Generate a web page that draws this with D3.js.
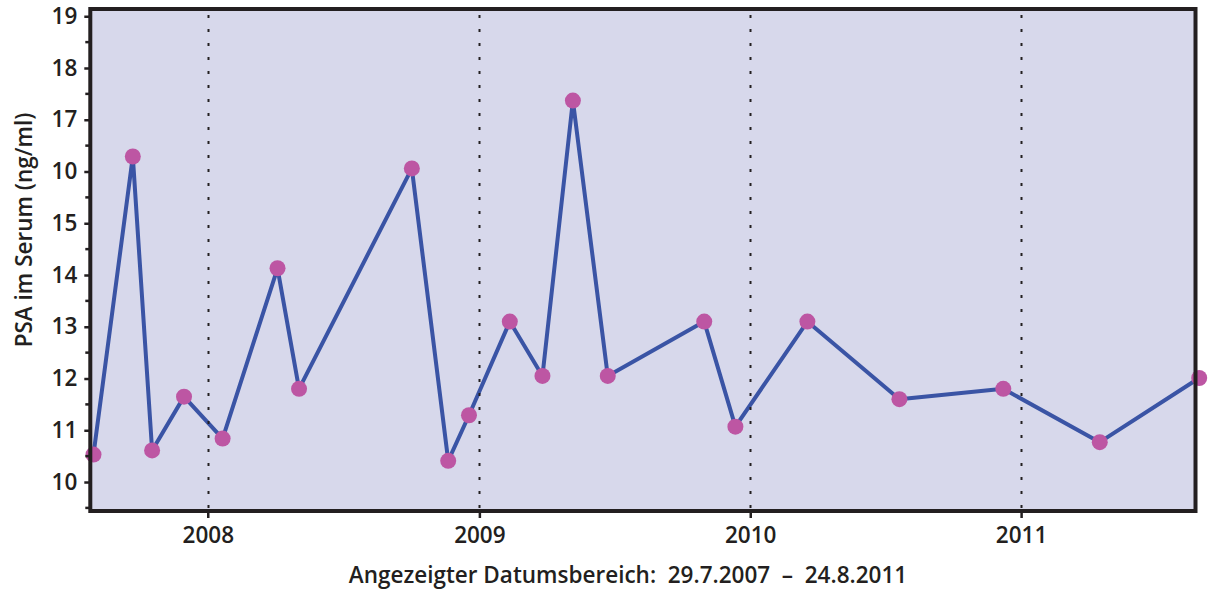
<!DOCTYPE html>
<html>
<head>
<meta charset="utf-8">
<script src="https://cdn.jsdelivr.net/npm/d3@7"></script>
<style>
  html, body { margin: 0; padding: 0; background: #ffffff; }
  svg { display: block; }
  text { font-family: "Open Sans", "Noto Sans", sans-serif; fill: #231f20; font-weight: 600; }
</style>
</head>
<body>
<svg id="chart" width="1210" height="591"></svg>
<script>
// ---- data ----
const dates = [
  "2007-07-31", "2007-09-22", "2007-10-18", "2007-11-30", "2008-01-21",
  "2008-04-04", "2008-05-03", "2008-10-02", "2008-11-20", "2008-12-18",
  "2009-02-11", "2009-03-27", "2009-05-07", "2009-06-23", "2009-10-31",
  "2009-12-12", "2010-03-19", "2010-07-21", "2010-12-08", "2011-04-17",
  "2011-08-29"
];
const psaValues = [
  10.53, 16.29, 10.61, 11.65, 10.84,
  14.13, 11.80, 16.06, 10.41, 11.29,
  13.10, 12.05, 17.37, 12.05, 13.10,
  11.07, 13.10, 11.60, 11.80, 10.77,
  12.01
];
const yTickValues = [10, 11, 12, 13, 14, 15, 16, 17, 18, 19];
const yTickLabels = ["10", "11", "12", "13", "14", "15", "10", "17", "18", "19"];
const yMinorValues = [9.5, 10.5, 11.5, 12.5, 13.5, 14.5, 15.5, 16.5, 17.5, 18.5];
const xTickDates = ["2008-01-01", "2009-01-01", "2010-01-01", "2011-01-01"];
const xTickLabels = ["2008", "2009", "2010", "2011"];
const dateRange = ["2007-07-29", "2011-08-24"];
const yDomain = [9.44, 19.14];
const yTitle = "PSA im Serum (ng/ml)";
const xTitle = "Angezeigter Datumsbereich:  29.7.2007  \u2013  24.8.2011";

// ---- layout ----
const parse = d3.timeParse("%Y-%m-%d");
const svg = d3.select("#chart");
const frame = { left: 90.3, right: 1195.5, top: 9, bottom: 511 };

const x = d3.scaleTime()
  .domain(dateRange.map(parse))
  .range([92, 1195.5]);
const y = d3.scaleLinear()
  .domain(yDomain)
  .range([frame.bottom, frame.top]);

const data = dates.map((d, i) => ({ date: parse(d), value: psaValues[i] }));

// background
svg.append("rect")
  .attr("x", frame.left).attr("y", frame.top)
  .attr("width", frame.right - frame.left)
  .attr("height", frame.bottom - frame.top)
  .attr("fill", "#d7d8eb");

// line
svg.append("path")
  .datum(data)
  .attr("fill", "none")
  .attr("stroke", "#3a54a5")
  .attr("stroke-width", 4)
  .attr("stroke-linejoin", "round")
  .attr("d", d3.line().x(d => x(d.date)).y(d => y(d.value)));

// dotted year gridlines
svg.append("g")
  .selectAll("line")
  .data(xTickDates.map(parse))
  .join("line")
  .attr("x1", d => Math.round(x(d)) + 0.5)
  .attr("x2", d => Math.round(x(d)) + 0.5)
  .attr("y1", frame.top + 6)
  .attr("y2", frame.bottom - 2)
  .attr("stroke", "#231f20")
  .attr("stroke-width", 2)
  .attr("stroke-dasharray", "3,11");

// points
svg.append("g")
  .selectAll("circle")
  .data(data)
  .join("circle")
  .attr("cx", d => x(d.date))
  .attr("cy", d => y(d.value))
  .attr("r", 8)
  .attr("fill", "#bd56a3");

// y axis (major ticks + labels)
const yAxis = d3.axisLeft(y)
  .tickValues(yTickValues)
  .tickSize(5)
  .tickPadding(7)
  .tickFormat((d, i) => yTickLabels[i]);
const gy = svg.append("g")
  .attr("transform", `translate(${frame.left - 1},0)`)
  .call(yAxis);
gy.select(".domain").remove();
gy.selectAll(".tick line").attr("stroke", "#231f20").attr("stroke-width", 2.5)
  .attr("x2", -5).attr("x1", 2);
gy.selectAll(".tick text")
  .style("font-size", "22.5px")
  .attr("fill", "#231f20");

// y minor ticks
svg.append("g")
  .selectAll("line")
  .data(yMinorValues)
  .join("line")
  .attr("x1", frame.left - 5)
  .attr("x2", frame.left + 1)
  .attr("y1", d => y(d))
  .attr("y2", d => y(d))
  .attr("stroke", "#231f20")
  .attr("stroke-width", 2.5);

// x axis
const xAxis = d3.axisBottom(x)
  .tickValues(xTickDates.map(parse))
  .tickSize(7)
  .tickPadding(9)
  .tickFormat((d, i) => xTickLabels[i]);
const gx = svg.append("g")
  .attr("transform", `translate(0,${frame.bottom})`)
  .call(xAxis);
gx.select(".domain").remove();
gx.selectAll(".tick line").attr("stroke", "#231f20").attr("stroke-width", 2.5);
gx.selectAll(".tick text")
  .style("font-size", "22.5px")
  .attr("fill", "#231f20");

// frame
svg.append("rect")
  .attr("x", frame.left).attr("y", frame.top)
  .attr("width", frame.right - frame.left)
  .attr("height", frame.bottom - frame.top)
  .attr("fill", "none")
  .attr("stroke", "#231f20")
  .attr("stroke-width", 4);

// titles
svg.append("text")
  .attr("x", 628)
  .attr("y", 583)
  .attr("text-anchor", "middle")
  .style("font-size", "22.5px")
  .style("white-space", "pre")
  .attr("xml:space", "preserve")
  .text(xTitle);

svg.append("text")
  .attr("transform", "translate(32,230) rotate(-90)")
  .attr("text-anchor", "middle")
  .style("font-size", "22.5px")
  .text(yTitle);
</script>
</body>
</html>
